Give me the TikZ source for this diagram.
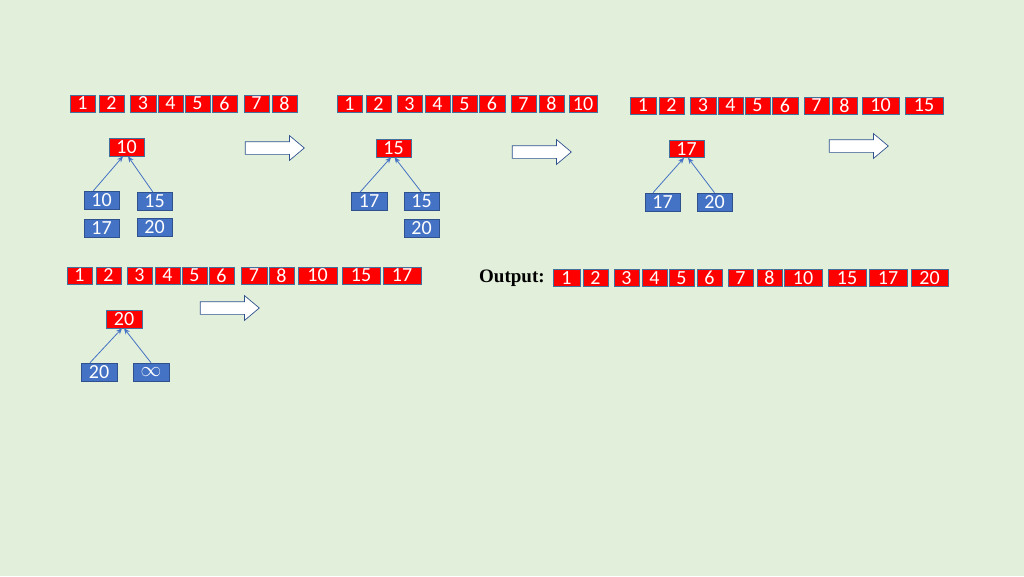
\documentclass[tikz,border=0pt]{standalone}
\usepackage{fontspec}
\usepackage{tikz}
\usetikzlibrary{positioning,shapes.arrows,arrows.meta}
\newfontfamily\cellfont{Carlito}
\newfontfamily\outfont{Liberation Serif}
\definecolor{bgcol}{RGB}{226,239,218}
\definecolor{redline}{RGB}{65,113,156}
\definecolor{bluefill}{RGB}{68,114,196}
\definecolor{blueline}{RGB}{47,82,143}

\tikzset{
  cell/.style={draw=redline, line width=.6pt, fill=red, text=white, inner sep=0pt,
    minimum height=17, font=\cellfont\fontsize{20}{20}\selectfont},
  heaptop/.style={cell, minimum width=35, minimum height=18},
  leaf/.style={cell, draw=blueline, fill=bluefill, minimum width=35, minimum height=18},
  link/.style={draw=bluefill, line width=.8pt, -{Stealth[length=6pt,width=5pt]}},
  step arrow/.style={single arrow, draw=blueline, line width=.7pt, fill=white,
    minimum height=59, minimum width=24, single arrow head extend=6,
    single arrow tip angle=80, inner xsep=0pt, inner ysep=6pt}
}

\begin{document}
\begin{tikzpicture}[x=1pt,y=-1pt]
    \fill[bgcol] (0,0) rectangle (1024,576);
    \useasboundingbox (0,0) rectangle (1024,576);

    \foreach \lbl/\xa/\xb in {1/70/95,2/99/124,3/130/156,4/158/183,5/185/210,6/212/237,7/244/269,8/272/297}
        \node[cell, minimum width={\xb-\xa}] (s1-\lbl) at ({(\xa+\xb)/2},103.5) {\lbl};
    \node[heaptop] (h1) at (126.5,147) {10};
    \node[leaf] (h1l) at (101.5,200.5) {10};
    \node[leaf] (h1r) at (154.5,201.5) {15};
    \node[leaf] (h1a) at (101.5,228.5) {17};
    \node[leaf] (h1b) at (154.5,227.5) {20};
    \draw[link] ([xshift=-8.5]h1l.north) -- ([xshift=-3.5]h1.south);
    \draw[link] ([xshift=-1.5]h1r.north) -- ([xshift=1.5]h1.south);
    \node[step arrow] (a1) at (271,148) {};

    \foreach \lbl/\xa/\xb in {1/337/362,2/366/391,3/397/422,4/425/450,5/452/477,6/479/505,7/511/536,8/539/564,10/569/597}
        \node[cell, minimum width={\xb-\xa}] (s2-\lbl) at ({(\xa+\xb)/2},104) {\lbl};
    \node[heaptop] (h2) at (393.5,148) {15};
    \node[leaf, minimum width=36] (h2l) at (369,201.5) {17};
    \node[leaf] (h2r) at (421.5,201.5) {15};
    \node[leaf] (h2b) at (421.5,228) {20};
    \draw[link] ([xshift=-9]h2l.north) -- ([xshift=-2.5]h2.south);
    \draw[link] (h2r.north) -- ([xshift=1]h2.south);
    \node[step arrow] (a2) at (538,152) {};

    \foreach \lbl/\xa/\xb in {1/630/656,2/659/684,3/690/716,4/718/743,5/745/770,6/772/798,7/804/829,8/832/857,10/862/899,15/905/943}
        \node[cell, minimum width={\xb-\xa}] (s3-\lbl) at ({(\xa+\xb)/2},105.5) {\lbl};
    \node[heaptop, minimum height=17] (h3) at (686.5,149) {17};
    \node[leaf] (h3l) at (662.5,202) {17};
    \node[leaf] (h3r) at (714.5,202) {20};
    \draw[link] ([xshift=-9.5]h3l.north) -- ([xshift=-2.5]h3.south);
    \draw[link] (h3r.north) -- ([xshift=1.5]h3.south);
    \node[step arrow] (a3) at (855,146) {};

    \foreach \lbl/\xa/\xb in {1/67/92,2/96/121,3/127/152,4/155/180,5/182/207,6/209/234,7/241/267,8/269/294,10/298/337,15/342/380,17/383/421}
        \node[cell, minimum width={\xb-\xa}] (s4-\lbl) at ({(\xa+\xb)/2},275.5) {\lbl};
    \node[heaptop, minimum width=36] (h4) at (124,319) {20};
    \node[leaf, minimum width=36] (h4l) at (99,372) {20};
    \node[leaf, minimum width=36] (h4r) at (151,372) {$\infty$};
    \draw[link] ([xshift=-9]h4l.north) -- ([xshift=-2]h4.south);
    \draw[link] (h4r.north) -- (h4.south);
    \node[step arrow] (a4) at (226,308) {};

    \node[font=\outfont\bfseries\fontsize{19}{19}\selectfont, anchor=west, inner sep=0pt] (out) at (479,278) {Output:};
    \foreach \lbl/\xa/\xb in {1/553/580,2/583/608,3/614/639,4/642/667,5/669/694,6/697/722,7/728/753,8/757/782,10/784/822,15/828/866,17/869/907,20/911/948}
        \node[cell, minimum width={\xb-\xa}] (o-\lbl) at ({(\xa+\xb)/2},278) {\lbl};
\end{tikzpicture}
\end{document}
